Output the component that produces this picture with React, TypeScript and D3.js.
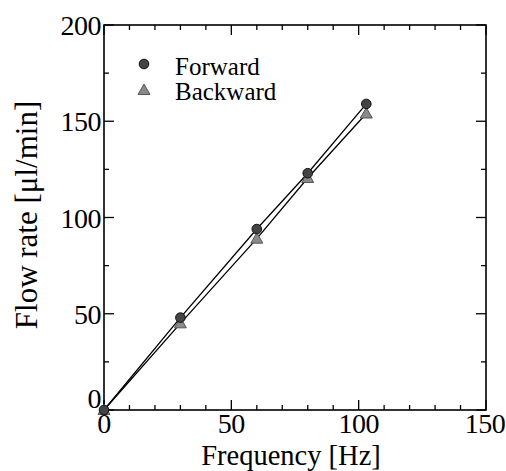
import React from "react";
import * as d3 from "d3";

// Pump flow rate vs. drive frequency
const frequency = [0, 30, 60, 80, 103];
const forward = [0, 48, 94, 123, 159];
const backward = [0, 45, 89, 120.5, 154];
const xTicks = [0, 50, 100, 150];
const yTicks = [0, 50, 100, 150, 200];
const seriesNames = ["Forward", "Backward"];

const W = 506;
const H = 471;
const M = { left: 104, top: 25, right: 486, bottom: 410 };
const FONT = '"Liberation Serif", serif';

export default function App() {
  const x = d3.scaleLinear().domain([0, 150]).range([M.left, M.right]);
  const y = d3.scaleLinear().domain([0, 200]).range([M.bottom, M.top]);

  const line = d3
    .line<number>()
    .x((_, i) => x(frequency[i]))
    .y((d) => y(d));

  const xMinor = d3.range(0, 151, 10);
  const yMinor = d3.range(0, 201, 25);

  const tri = d3.symbol().type(d3.symbolTriangle).size(62)() as string;

  return (
    <svg
      width={W}
      height={H}
      style={{ position: "absolute", left: 0, top: 0, background: "#fff" }}
    >
      {/* frame */}
      <rect
        x={M.left}
        y={M.top}
        width={M.right - M.left}
        height={M.bottom - M.top}
        fill="none"
        stroke="#000"
        strokeWidth={1.6}
      />
      {/* ticks on all four sides, pointing inward */}
      {xMinor.map((v) => {
        const len = v % 50 === 0 ? 10 : 5;
        return (
          <g key={"xt" + v} stroke="#000" strokeWidth={1.3}>
            <line x1={x(v)} x2={x(v)} y1={M.bottom} y2={M.bottom - len} />
            <line x1={x(v)} x2={x(v)} y1={M.top} y2={M.top + len} />
          </g>
        );
      })}
      {yMinor.map((v) => {
        const len = v % 50 === 0 ? 10 : 5;
        return (
          <g key={"yt" + v} stroke="#000" strokeWidth={1.3}>
            <line x1={M.left} x2={M.left + len} y1={y(v)} y2={y(v)} />
            <line x1={M.right} x2={M.right - len} y1={y(v)} y2={y(v)} />
          </g>
        );
      })}
      {/* tick labels */}
      {xTicks.map((v) => (
        <text
          key={"xl" + v}
          x={Math.min(x(v), W - 21)}
          y={M.bottom + 23}
          textAnchor="middle"
          style={{ fontFamily: FONT, letterSpacing: "-0.5px" }}
          fontSize={28}
        >
          {v}
        </text>
      ))}
      {yTicks.map((v) => (
        <text
          key={"yl" + v}
          x={M.left - 3}
          y={y(v) + (v === 0 ? -2 : 10)}
          textAnchor="end"
          style={{ fontFamily: FONT, letterSpacing: "-0.5px" }}
          fontSize={28}
        >
          {v}
        </text>
      ))}
      {/* axis titles */}
      <text
        x={291}
        y={464.5}
        textAnchor="middle"
        style={{ fontFamily: FONT }}
        fontSize={28.5}
      >
        Frequency [Hz]
      </text>
      <text
        transform="translate(37, 215) rotate(-90)"
        textAnchor="middle"
        style={{ fontFamily: FONT }}
        fontSize={31}
      >
        Flow rate [μl/min]
      </text>
      {/* series lines */}
      <path d={line(forward) || ""} fill="none" stroke="#000" strokeWidth={1.3} />
      <path d={line(backward) || ""} fill="none" stroke="#000" strokeWidth={1.3} />
      {/* markers */}
      {backward.map((v, i) => (
        <path
          key={"b" + i}
          d={tri}
          transform={`translate(${x(frequency[i])},${y(v) + 1})`}
          fill="#8a8a8a"
          stroke="#555"
          strokeWidth={1}
        />
      ))}
      {forward.map((v, i) => (
        <circle
          key={"f" + i}
          cx={x(frequency[i])}
          cy={y(v)}
          r={4.8}
          fill="#444"
          stroke="#111"
          strokeWidth={1}
        />
      ))}
      {/* legend */}
      <circle cx={144} cy={64} r={4.8} fill="#444" stroke="#111" strokeWidth={1} />
      <text x={175} y={75} style={{ fontFamily: FONT }} fontSize={25}>
        {seriesNames[0]}
      </text>
      <path
        d={tri}
        transform="translate(144,91)"
        fill="#8a8a8a"
        stroke="#555"
        strokeWidth={1}
      />
      <text x={175} y={100} style={{ fontFamily: FONT }} fontSize={25}>
        {seriesNames[1]}
      </text>
    </svg>
  );
}
